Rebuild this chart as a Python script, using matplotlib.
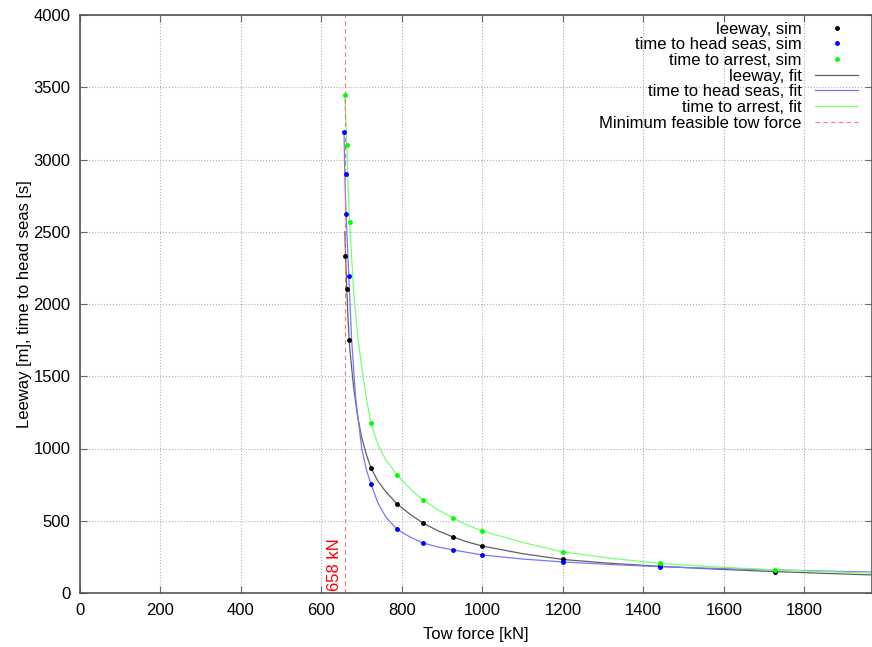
import matplotlib
matplotlib.use('Agg')
from matplotlib import pyplot as plt

plt.rcParams['font.family'] = ['Liberation Sans', 'DejaVu Sans']
plt.rcParams['font.size'] = 12

MIN_FORCE = 658

# simulated points
leeway_x = [658, 663, 668, 723, 788, 852, 927, 1000, 1200, 1440, 1728]
leeway_y = [2332, 2104, 1751, 865, 616, 484, 388, 325, 232, 185, 148]

head_x = [656, 660, 662, 668, 723, 788, 852, 927, 1000, 1200, 1440]
head_y = [3190, 2900, 2623, 2194, 754, 440, 346, 298, 263, 215, 180]

arrest_x = [658, 663, 670, 723, 788, 852, 927, 1000, 1200, 1440, 1728]
arrest_y = [3446, 3100, 2567, 1176, 817, 644, 519, 429, 284, 205, 160]

# fitted curves
leeway_fit_x = [658, 660, 663, 666, 670, 680, 690, 700, 712, 723, 740, 760, 788, 820, 852, 890, 927, 960, 1000,
                1100, 1200, 1320, 1440, 1580, 1728, 1850, 1968]
leeway_fit_y = [2500, 2330, 2104, 1900, 1700, 1420, 1220, 1075, 955, 865, 775, 700, 616, 545, 484, 430, 388, 355, 325,
                272, 232, 205, 185, 165, 148, 136, 125]

head_fit_x = [656, 658, 660, 662, 665, 668, 675, 685, 700, 712, 723, 740, 760, 788, 820, 852, 890, 927, 1000,
              1100, 1200, 1320, 1440, 1580, 1728, 1850, 1968]
head_fit_y = [3190, 2900, 2700, 2560, 2380, 2194, 1750, 1350, 1000, 850, 754, 625, 525, 440, 388, 346, 318, 298, 263,
              235, 215, 197, 182, 170, 160, 152, 145]

arrest_fit_x = [658, 660, 663, 666, 670, 680, 690, 700, 712, 723, 740, 760, 788, 820, 852, 890, 927, 960, 1000,
                1100, 1200, 1320, 1440, 1580, 1728, 1850, 1968]
arrest_fit_y = [3446, 3300, 3100, 2830, 2567, 2080, 1780, 1560, 1340, 1176, 1030, 920, 817, 722, 644, 575, 519, 472, 429,
                350, 284, 240, 205, 180, 160, 148, 138]


def main():
	fig = plt.figure(figsize=(8.72, 6.47), dpi=100)
	ax = fig.add_axes([80 / 872, 1 - 593 / 647, 1 - 80 / 872, (593 - 15) / 647])

	ax.plot(leeway_x, leeway_y, 'o', color='black', ms=2.5, label='leeway, sim', zorder=5)
	ax.plot(head_x, head_y, 'o', color='#0000ff', ms=2.5, label='time to head seas, sim', zorder=5)
	ax.plot(arrest_x, arrest_y, 'o', color='#00ff00', ms=2.5, label='time to arrest, sim', zorder=5)

	ax.plot(leeway_fit_x, leeway_fit_y, color='#606060', lw=0.9, label='leeway, fit')
	ax.plot(head_fit_x, head_fit_y, color='#7777ff', lw=0.9, label='time to head seas, fit')
	ax.plot(arrest_fit_x, arrest_fit_y, color='#77ff77', lw=0.9, label='time to arrest, fit')

	ax.axvline(MIN_FORCE, color='#ff7070', lw=0.8, ls=(0, (4, 3)), label='Minimum feasible tow force')
	ax.text(MIN_FORCE - 6, 15, '%d kN' % MIN_FORCE, color='red', rotation=90, ha='right', va='bottom', fontsize=12)

	ax.set_xlim(0, 1968)
	ax.set_ylim(0, 4000)
	ax.set_xticks(range(0, 1801, 200))
	ax.set_yticks(range(0, 4001, 500))
	ax.grid(True, color='#b0b0b0', ls=':', lw=0.8)
	ax.tick_params(direction='in', top=True, right=True, length=5, color='#666666', pad=7)
	for s in ax.spines.values():
		s.set_color('#555555')
		s.set_linewidth(1.2)

	ax.set_xlabel('Tow force [kN]', labelpad=7)
	ax.set_ylabel('Leeway [m], time to head seas [s]', labelpad=1)

	ax.legend(loc='upper right', bbox_to_anchor=(0.991, 1.0), frameon=False, markerfirst=False, numpoints=1,
			  handlelength=2.6, labelspacing=0.04, borderaxespad=0.1, borderpad=0.3,
			  handletextpad=0.8)

	plt.savefig('out.png', dpi=100)


if __name__ == '__main__':
	main()
